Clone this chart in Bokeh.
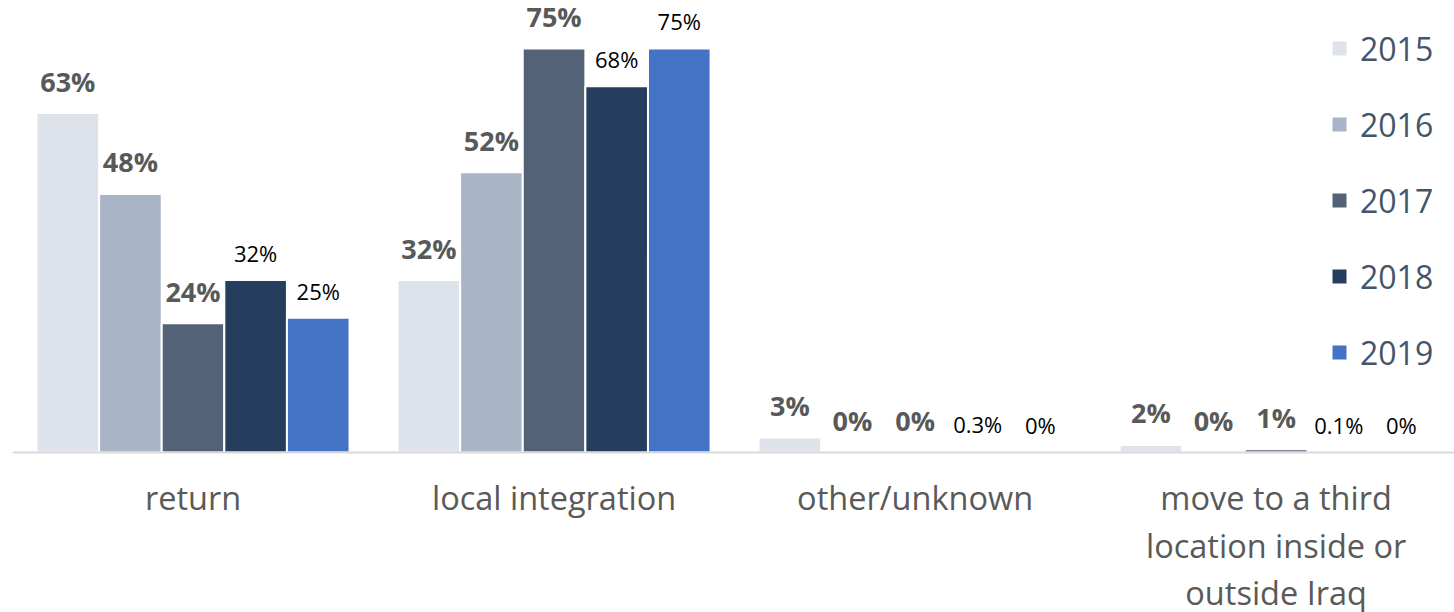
from bokeh.plotting import figure
from bokeh.models import (ColumnDataSource, Range1d, Legend, LegendItem, Span)
from bokeh.transform import dodge
from bokeh.core.properties import value
from bokeh.embed import file_html
from bokeh.resources import INLINE

# ---- data ----
categories = ["return", "local integration", "other/unknown",
              "move to a third\nlocation inside or\noutside Iraq"]
years = ["2015", "2016", "2017", "2018", "2019"]
v2015 = [63, 32, 2.8, 1.4]
v2016 = [48, 52, 0, 0]
v2017 = [24, 75, 0, 0.6]
v2018 = [32, 68, 0.3, 0.1]
v2019 = [25, 75, 0, 0]
l2015 = ["63%", "32%", "3%", "2%"]
l2016 = ["48%", "52%", "0%", "0%"]
l2017 = ["24%", "75%", "0%", "1%"]
l2018 = ["32%", "68%", "0.3%", "0.1%"]
l2019 = ["25%", "75%", "0%", "0%"]

series_values = [v2015, v2016, v2017, v2018, v2019]
series_labels = [l2015, l2016, l2017, l2018, l2019]
colors = ["#DEE3EB", "#A9B5C7", "#546278", "#263E5E", "#4472C4"]
label_bold = [True, True, True, False, False]

FONT = "Open Sans"
slot = 0.1734

p = figure(width=1454, height=612, output_backend="svg", toolbar_location=None,
           x_range=Range1d(0, 3.994), y_range=Range1d(-29.7, 83.9),
           x_axis_location=None, y_axis_location=None,
           min_border_left=12, min_border_right=0,
           min_border_top=0, min_border_bottom=0)
p.outline_line_color = None
p.xgrid.visible = False
p.ygrid.visible = False
p.background_fill_color = "white"
p.border_fill_color = "white"

xc = [i + 0.5 for i in range(len(categories))]
items = []
for j, yr in enumerate(years):
    src = ColumnDataSource(dict(x=xc, top=series_values[j], lab=series_labels[j]))
    off = (j - 2) * slot
    r = p.vbar(x=dodge("x", off), top="top", bottom=0, width=slot, source=src,
               fill_color=colors[j], line_color="white", line_width=2)
    items.append(LegendItem(label=yr, renderers=[r]))
    if label_bold[j]:
        p.text(x=dodge("x", off), y="top", text="lab", source=src,
               text_font=value(FONT), text_font_size="27px", text_font_style="bold",
               text_color="#595959", text_align="center", text_baseline="alphabetic",
               y_offset=-32)
    else:
        p.text(x=dodge("x", off), y="top", text="lab", source=src,
               text_font=value(FONT), text_font_size="22px",
               text_color="#000000", text_align="center", text_baseline="alphabetic",
               y_offset=-27)

# baseline (category axis line)
p.add_layout(Span(location=0, dimension="width", line_color="#D9D9D9", line_width=2))

# category names below the baseline
cat_src = ColumnDataSource(dict(x=xc, y=[0] * len(xc), name=categories))
p.text(x="x", y="y", text="name", source=cat_src,
       y_offset=23, text_align="center", text_baseline="top",
       text_font=value(FONT), text_font_size="32.5px",
       text_color="#595959", text_line_height=1.05)

legend = Legend(items=items, location=(1317, 237), orientation="vertical",
                glyph_width=20, glyph_height=20, label_height=46, spacing=30,
                label_standoff=11, padding=0, margin=0,
                label_text_font=FONT, label_text_font_size="32px",
                label_text_color="#44546A",
                background_fill_alpha=0, border_line_color=None)
p.add_layout(legend)

open("out.html", "w").write(file_html(p, INLINE))
